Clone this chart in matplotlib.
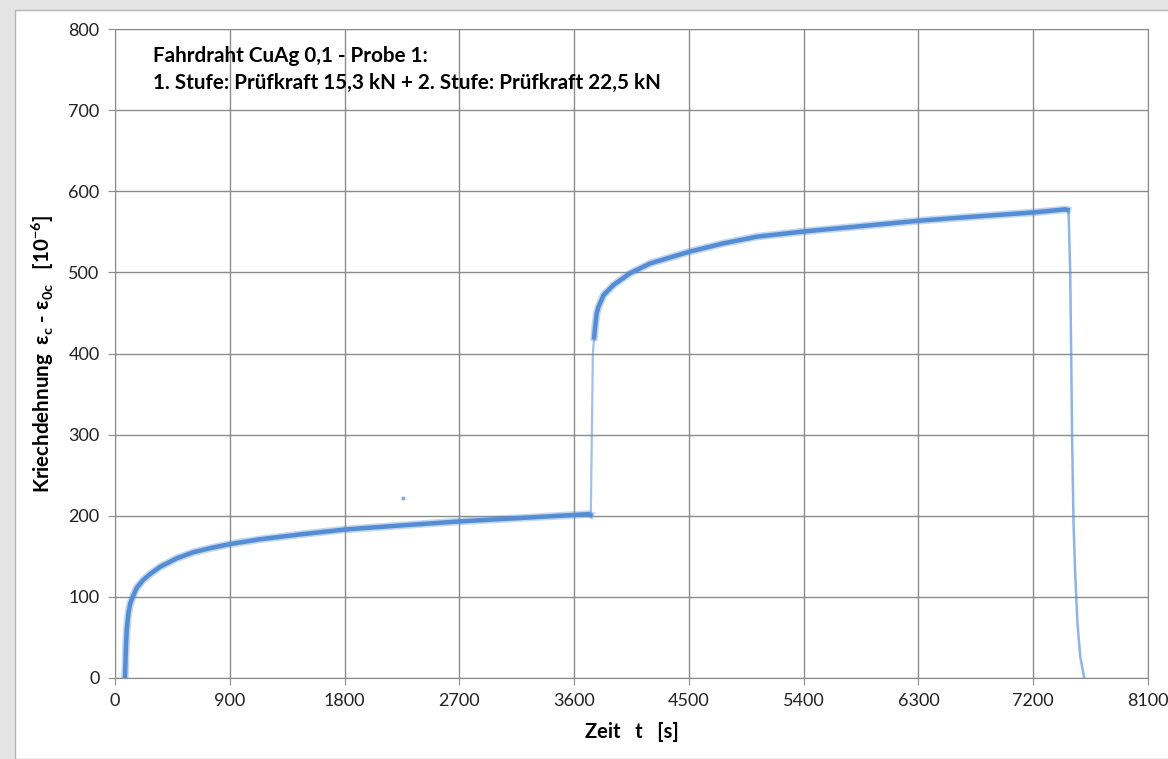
import matplotlib.pyplot as plt
from matplotlib.patches import Rectangle

# creep curve (time in s, strain in 1e-6)
stage1_t = [78, 86, 92, 105, 120, 139, 170, 222, 274, 353, 484, 614, 745, 897,
            1137, 1451, 1800, 2235, 2700, 3150, 3600, 3712, 3728]
stage1_v = [0, 39, 59, 80, 92, 100, 111, 121, 128, 137, 147.5, 155, 160, 165,
            171, 177, 183, 188, 193, 197, 201, 202, 201]

jump_t = [3725, 3731, 3739, 3747, 3757]
jump_v = [201, 203, 300, 400, 420]

stage2_t = [3757, 3765, 3777, 3792, 3831, 3909, 4039, 4196, 4504, 4771, 5033,
            5406, 5817, 6306, 6733, 7211, 7451, 7469]
stage2_v = [420, 433, 449.5, 458, 472, 484.5, 499, 511, 525.5, 535.8, 544,
            550.5, 556.5, 563.7, 568.7, 574, 577.7, 577]

unload_t = [7469, 7476, 7480, 7490, 7498, 7505, 7516, 7529, 7547, 7569, 7600]
unload_v = [577, 575, 560, 499, 396, 293, 191, 129, 67, 26, 0]

outlier_t = [2261]
outlier_v = [221.5]

x_ticks = list(range(0, 8101, 900))
y_ticks = list(range(0, 801, 100))

blue = '#548DD4'
grid_c = '#8c8c8c'

plt.rcParams['font.family'] = ['Lato', 'DejaVu Sans']

fig = plt.figure(figsize=(11.68, 7.59), dpi=100, facecolor='#e4e4e4')
fig.patches.append(Rectangle((15 / 1168, 0), 1, (759 - 10) / 759,
                             transform=fig.transFigure, facecolor='white',
                             edgecolor='#b5b5b5', lw=1, zorder=-5))

ax = fig.add_axes([115 / 1168, (759 - 678) / 759, 1033 / 1168, 649 / 759])
ax.set_facecolor('white')

# fuzzy band of scatter points -> wide faint line under a solid core
for t, v in [(stage1_t, stage1_v), (stage2_t, stage2_v)]:
    ax.plot(t, v, color=blue, lw=5.5, alpha=0.35, zorder=3)
    ax.plot(t, v, color=blue, lw=3.2, zorder=3)
ax.plot(jump_t, jump_v, color=blue, lw=1.6, alpha=0.55, zorder=3)
ax.plot(unload_t, unload_v, color=blue, lw=1.8, alpha=0.65, zorder=3)
ax.plot(outlier_t, outlier_v, 'o', color=blue, ms=2, alpha=0.6, zorder=3)

ax.set_xlim(0, 8100)
ax.set_ylim(0, 800)
ax.set_xticks(x_ticks)
ax.set_yticks(y_ticks)
ax.grid(True, color=grid_c, lw=1)
ax.set_axisbelow(True)
for s in ax.spines.values():
    s.set_color(grid_c)
ax.tick_params(direction='out', length=5, color=grid_c, labelsize=13,
               labelcolor='#222222', pad=6)

ax.set_xlabel('Zeit   t   [s]', fontsize=14.5, fontweight='bold', labelpad=9)
ax.set_ylabel(r'Kriechdehnung  $\mathregular{ε_c}$ - $\mathregular{ε_{0c}}$   [10$^{\mathregular{-6}}$]',
              fontsize=14.8, fontweight='bold', labelpad=9)

ax.text(0.0368, 0.974,
        'Fahrdraht CuAg 0,1 - Probe 1:\n1. Stufe: Prüfkraft 15,3 kN + 2. Stufe: Prüfkraft 22,5 kN',
        transform=ax.transAxes, va='top', ha='left', fontsize=14.9,
        fontweight='bold', linespacing=1.45)

fig.savefig('out.png', dpi=100, facecolor=fig.get_facecolor())
